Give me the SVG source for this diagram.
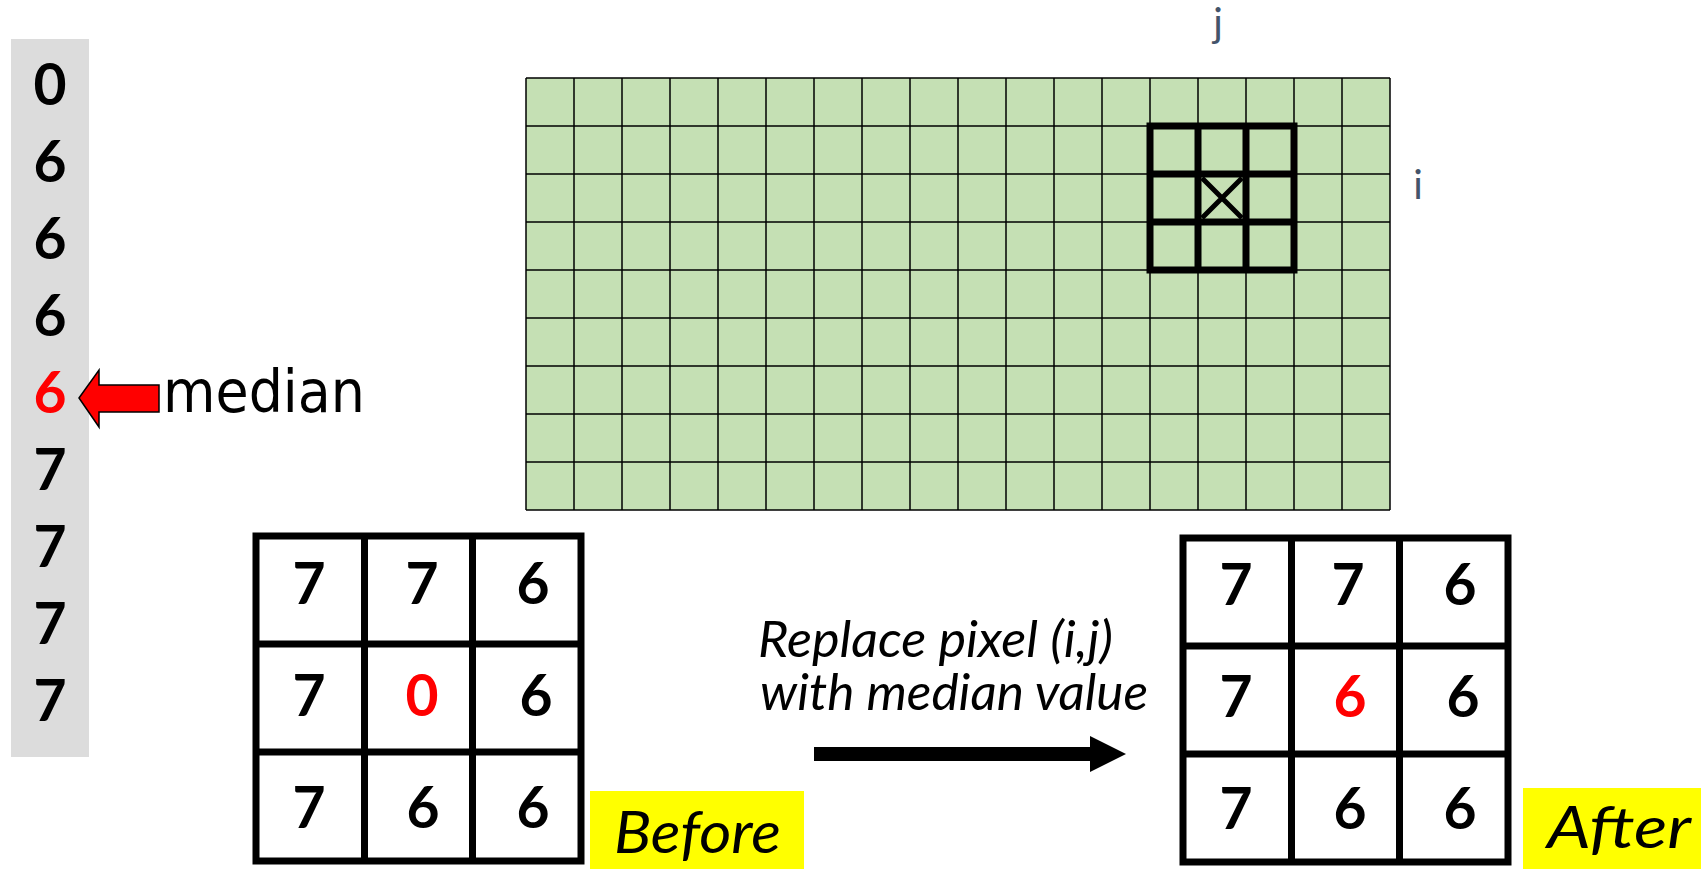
<svg xmlns="http://www.w3.org/2000/svg" width="1701" height="869" viewBox="0 0 1701 869">
  <style>
    .num { font-family: Lato, "Liberation Sans", sans-serif; font-weight: bold; font-size: 57px; fill: #000; text-anchor: middle; }
    .red { fill: #ff0000; }
    .box { fill: #fff; stroke: #000; stroke-width: 7; }
    .thick { stroke: #000; stroke-width: 7; fill: none; }
    .grid { stroke: #000; stroke-width: 1.5; fill: none; }
    .axis { font-family: Lato, "Liberation Sans", sans-serif; font-size: 40px; fill: #44546a; text-anchor: middle; }
    .note { font-family: Lato, "Liberation Sans", sans-serif; font-style: italic; font-size: 50px; fill: #000; }
    .tag { font-family: Lato, "Liberation Sans", sans-serif; font-style: italic; font-size: 58px; fill: #000; }
    .hl { fill: #ffff00; }
  </style>

  <!-- sorted values column -->
  <g id="sorted-column">
    <rect x="11" y="39" width="78" height="718" fill="#dcdcdc"/>
    <text class="num" x="50" y="105">0</text>
    <text class="num" x="50" y="182">6</text>
    <text class="num" x="50" y="259">6</text>
    <text class="num" x="50" y="336">6</text>
    <text class="num red" x="50" y="413">6</text>
    <text class="num" x="50" y="490">7</text>
    <text class="num" x="50" y="567">7</text>
    <text class="num" x="50" y="644">7</text>
    <text class="num" x="50" y="721">7</text>
  </g>

  <g id="median-label">
    <text x="163" y="412" font-family="'DejaVu Sans', sans-serif" font-size="58" textLength="202" lengthAdjust="spacingAndGlyphs">median</text>
  </g>

  <!-- image grid -->
  <g id="image-grid">
    <rect x="526" y="78" width="864" height="432" fill="#c5e0b4"/>
    <path class="grid" d="M526 78V510M574 78V510M622 78V510M670 78V510M718 78V510M766 78V510M814 78V510M862 78V510M910 78V510M958 78V510M1006 78V510M1054 78V510M1102 78V510M1150 78V510M1198 78V510M1246 78V510M1294 78V510M1342 78V510M1390 78V510
      M526 78H1390M526 126H1390M526 174H1390M526 222H1390M526 270H1390M526 318H1390M526 366H1390M526 414H1390M526 462H1390M526 510H1390"/>
  </g>

  <g id="window">
    <rect class="thick" x="1150" y="126" width="144" height="144"/>
    <path class="thick" d="M1198 126V270M1246 126V270M1150 174H1294M1150 222H1294"/>
    <path stroke="#000" stroke-width="5" fill="none" d="M1202 178L1242 218M1242 178L1202 218"/>
  </g>

  <g id="label-j"><text class="axis" x="1218" y="37">j</text></g>
  <g id="label-i"><text class="axis" x="1418" y="199">i</text></g>

  <!-- before window -->
  <g id="before-grid">
    <rect class="box" x="256" y="536" width="325" height="325"/>
    <path class="thick" d="M364.5 536V861M472.5 536V861M256 644H581M256 752H581"/>
    <text class="num" x="309" y="604">7</text>
    <text class="num" x="422" y="604">7</text>
    <text class="num" x="533" y="604">6</text>
    <text class="num" x="309" y="716">7</text>
    <text class="num red" x="422" y="716">0</text>
    <text class="num" x="536" y="716">6</text>
    <text class="num" x="309" y="828">7</text>
    <text class="num" x="423" y="828">6</text>
    <text class="num" x="533" y="828">6</text>
  </g>

  <g id="before-label">
    <rect class="hl" x="590" y="791" width="214" height="78"/>
    <text class="tag" x="614" y="853" textLength="167" lengthAdjust="spacingAndGlyphs">Before</text>
  </g>

  <!-- after window -->
  <g id="after-grid">
    <rect class="box" x="1183" y="538" width="325" height="324"/>
    <path class="thick" d="M1291.5 538V862M1399.5 538V862M1183 646H1508M1183 754H1508"/>
    <text class="num" x="1236" y="605">7</text>
    <text class="num" x="1348" y="605">7</text>
    <text class="num" x="1460" y="605">6</text>
    <text class="num" x="1236" y="717">7</text>
    <text class="num red" x="1350" y="717">6</text>
    <text class="num" x="1463" y="717">6</text>
    <text class="num" x="1236" y="829">7</text>
    <text class="num" x="1350" y="829">6</text>
    <text class="num" x="1460" y="829">6</text>
  </g>

  <g id="after-label">
    <rect class="hl" x="1523" y="788" width="178" height="81"/>
    <text class="tag" x="1547" y="848" font-size="54" textLength="144" lengthAdjust="spacingAndGlyphs">After</text>
  </g>

  <g id="replace-note">
    <text class="note" x="758" y="657" textLength="355" lengthAdjust="spacingAndGlyphs">Replace pixel (i,j)</text>
    <text class="note" x="760" y="710" textLength="388" lengthAdjust="spacingAndGlyphs">with median value</text>
  </g>

  <!-- connectors -->
  <g id="connectors">
    <polygon points="79,398 99,370 99,385 159,385 159,412 99,412 99,427" fill="#ff0000" stroke="#000" stroke-width="1.5" stroke-linejoin="miter"/>
    <polygon points="814,747 1090,747 1090,736 1126,754 1090,772 1090,761 814,761" fill="#000"/>
  </g>
</svg>
